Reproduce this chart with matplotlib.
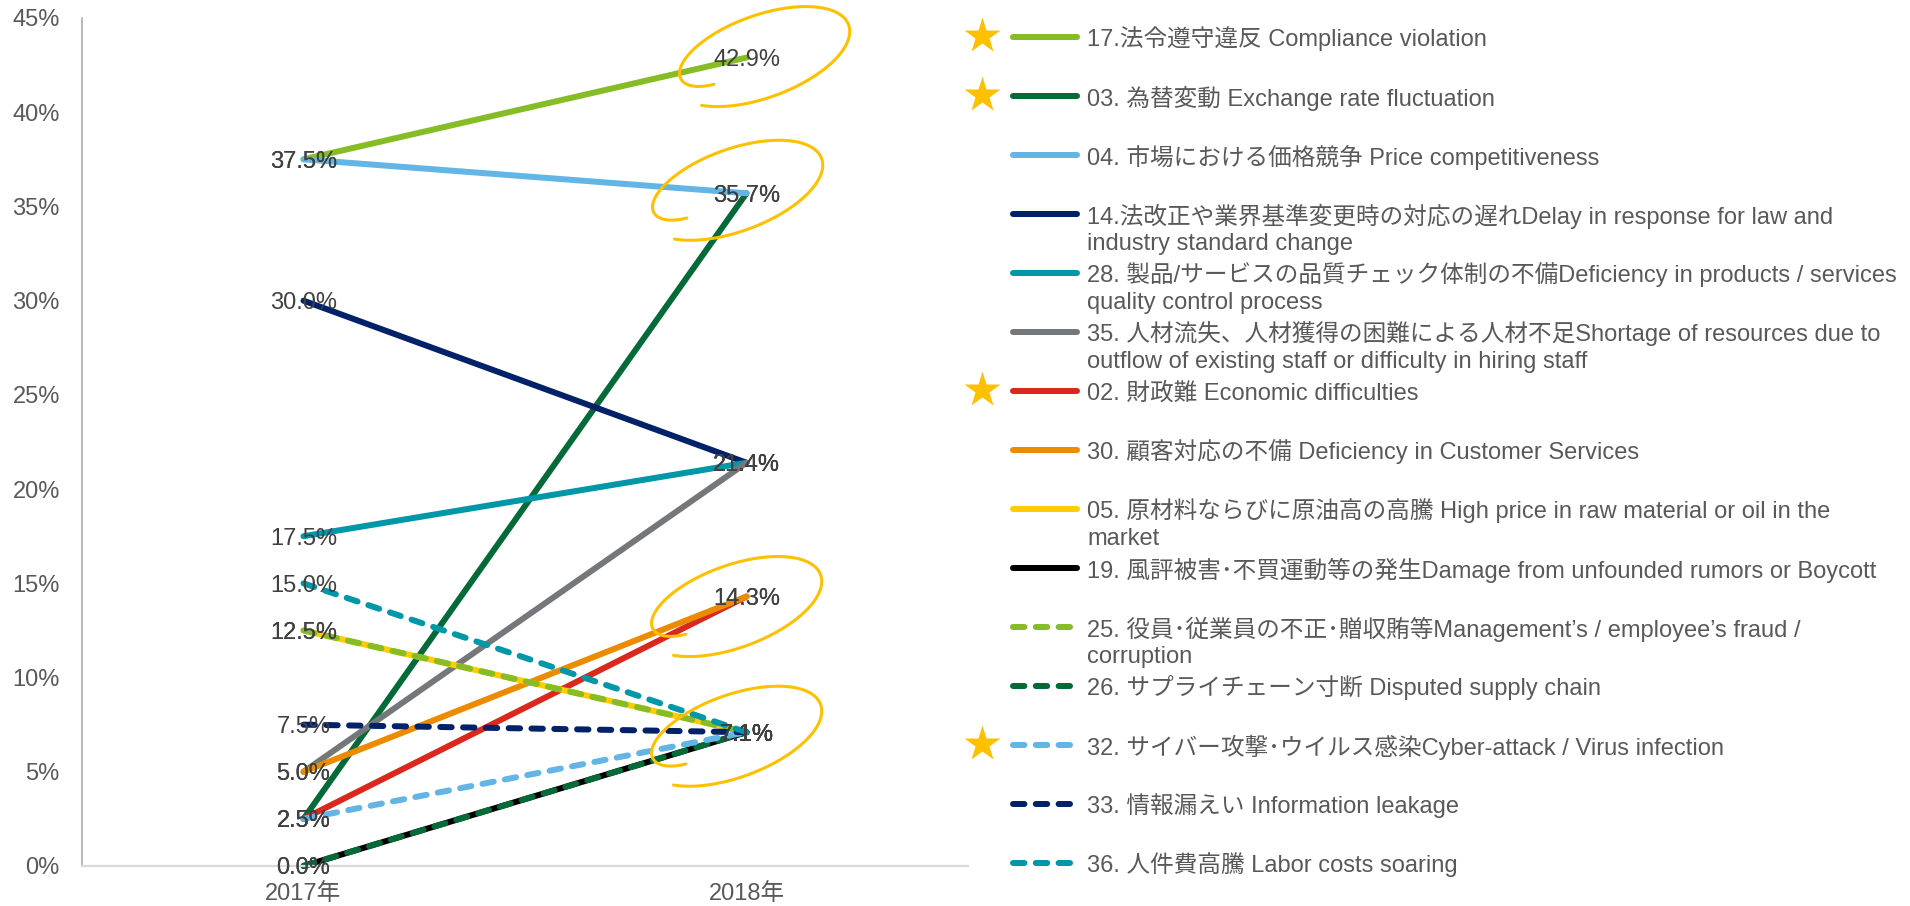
import numpy as np
import matplotlib
matplotlib.use('Agg')
from matplotlib import pyplot as plt
from matplotlib import transforms as mtransforms

plt.rcParams['font.family'] = ['Liberation Sans', 'Noto Sans CJK JP']

## data ########################################################
years = ['2017年', '2018年']
names = [
    '17.法令遵守違反 Compliance violation',
    '03. 為替変動 Exchange rate fluctuation',
    '04. 市場における価格競争 Price competitiveness',
    '14.法改正や業界基準変更時の対応の遅れDelay in response for law and\nindustry standard change',
    '28. 製品/サービスの品質チェック体制の不備Deficiency in products / services\nquality control process',
    '35. 人材流失、人材獲得の困難による人材不足Shortage of resources due to\noutflow of existing staff or difficulty in hiring staff',
    '02. 財政難 Economic difficulties',
    '30. 顧客対応の不備 Deficiency in Customer Services',
    '05. 原材料ならびに原油高の高騰 High price in raw material or oil in the\nmarket',
    '19. 風評被害･不買運動等の発生Damage from unfounded rumors or Boycott',
    '25. 役員･従業員の不正･贈収賄等Management’s / employee’s fraud /\ncorruption',
    '26. サプライチェーン寸断 Disputed supply chain',
    '32. サイバー攻撃･ウイルス感染Cyber-attack / Virus infection',
    '33. 情報漏えい Information leakage',
    '36. 人件費高騰 Labor costs soaring',
]
v2017 = [37.5, 2.5, 37.5, 30.0, 17.5, 5.0, 2.5, 5.0, 12.5, 0.0, 12.5, 0.0, 2.5, 7.5, 15.0]
v2018 = [42.9, 35.7, 35.7, 21.4, 21.4, 21.4, 14.3, 14.3, 7.1, 7.1, 7.1, 7.1, 7.1, 7.1, 7.1]
colors = ['#86BC25', '#046A38', '#62B5E5', '#012169', '#0097A9', '#75787B', '#DA291C',
          '#ED8B00', '#FFCD00', '#000000', '#86BC25', '#046A38', '#62B5E5', '#012169', '#0097A9']
dashed = [False] * 10 + [True] * 5
starred = [True, True, False, False, False, False, True, False, False, False,
           False, False, True, False, False]
# 2018 values ringed by hand, with the ring centre shift in px
circled = [42.9, 35.7, 14.3, 7.1]
ring_shift = [(15, 1), (-12, 3), (-13, -10), (-13, -4)]
################################################################

W, H = 1910, 906
FS = 17
fig = plt.figure(figsize=(W / 100, H / 100), dpi=100)
ax = fig.add_axes([82 / W, 40 / H, 886 / W, 848 / H])

LW = 4.32
DASH = (0, (1.9, 1.9))

for i in range(len(names)):
    ls = DASH if dashed[i] else '-'
    ax.plot([0, 1], [v2017[i], v2018[i]], color=colors[i], lw=LW, ls=ls,
            solid_capstyle='round', dash_capstyle='round', clip_on=False, zorder=2)

# value labels sit right on the points
for i in range(len(names)):
    for k, v in enumerate([v2017[i], v2018[i]]):
        ax.text(k, v, '%.1f%%' % v, ha='center', va='center_baseline',
                fontsize=FS, color='#404040', zorder=5)

ax.set_xlim(-0.5, 1.5)
ax.set_ylim(0, 45)
ax.set_xticks([0, 1])
ax.set_xticklabels(years)
ax.set_yticks(np.arange(0, 46, 5))
ax.set_yticklabels(['%d%%' % t for t in np.arange(0, 46, 5)])
ax.tick_params(axis='both', length=0, labelsize=FS, labelcolor='#595959')
ax.tick_params(axis='y', pad=16)
ax.tick_params(axis='x', pad=12)
for s in ['top', 'right']:
    ax.spines[s].set_visible(False)
ax.spines['left'].set_color('#A6A6A6')
ax.spines['left'].set_linewidth(1.1)
ax.spines['bottom'].set_color('#D9D9D9')
ax.spines['bottom'].set_linewidth(1.6)


def ring(cx, cy):
    # open pen loop, tilted, starting with a small inward hook
    th = np.radians(np.linspace(202, -142, 240))
    sc = 1.03 - 0.38 * np.exp(-(th[0] - th) / np.radians(22))
    u = 90 * sc * np.cos(th)
    v = 40 * sc * np.sin(th)
    phi = np.radians(20)
    x = cx + u * np.cos(phi) - v * np.sin(phi)
    y = cy + u * np.sin(phi) + v * np.cos(phi)
    return x / 100, y / 100


for v, (dx, dy) in zip(circled, ring_shift):
    rx, ry = ring(dx, dy)
    tr = fig.dpi_scale_trans + mtransforms.ScaledTranslation(1, v, ax.transData)
    ax.plot(rx, ry, color='#FFC000', lw=2.2, transform=tr, clip_on=False,
            solid_capstyle='round', zorder=6)

## legend ######################################################
lax = fig.add_axes([955 / W, 0, 955 / W, 1])
lax.set_xlim(955, 1910)
lax.set_ylim(H, 0)
lax.axis('off')

y0, step, line_h = 36.5, 59, 28
for i, name in enumerate(names):
    y = y0 + step * i
    if dashed[i]:
        lax.plot([1013, 1072], [y, y], color=colors[i], lw=LW, ls=DASH,
                 dash_capstyle='round')
    else:
        lax.plot([1013, 1077], [y, y], color=colors[i], lw=LW, solid_capstyle='round')
    if starred[i]:
        lax.plot(982, y - 1, marker='*', ms=27, color='#FFC000', mec='none')
    for k, part in enumerate(name.split('\n')):
        lax.text(1087, y + k * line_h, part, ha='left', va='center_baseline',
                 fontsize=FS, color='#595959')

plt.savefig('out.png', dpi=100)
